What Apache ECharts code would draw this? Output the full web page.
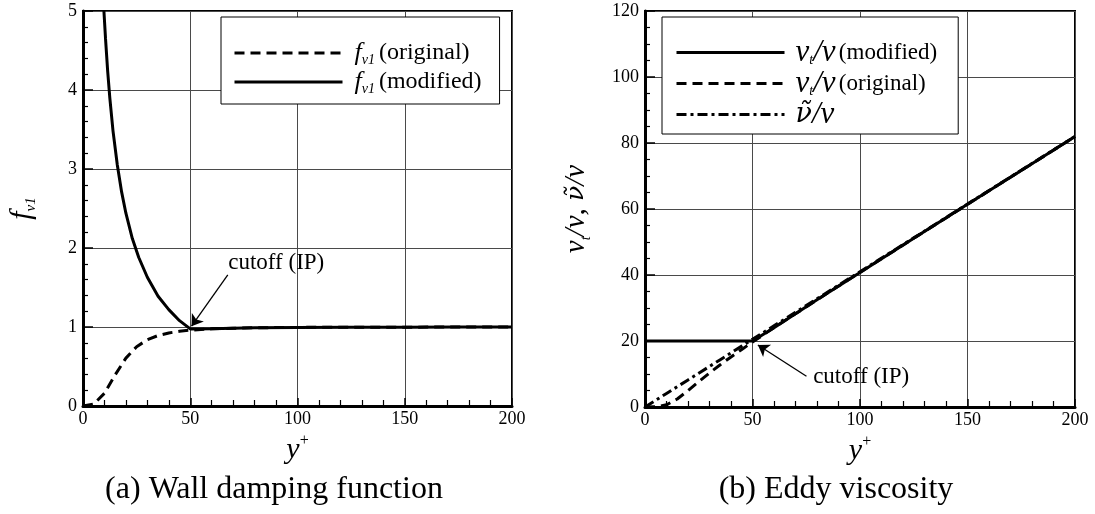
<!DOCTYPE html>
<html>
<head>
<meta charset="utf-8">
<script src="https://cdn.jsdelivr.net/npm/echarts@6/dist/echarts.min.js"></script>
<style>
  html, body { margin: 0; padding: 0; background: #fff; }
  #chart { width: 1095px; height: 514px; }
</style>
</head>
<body>
<div id="chart"></div>
<script>
// ---- data ----
// (a) wall damping function f_v1 against y+
const yPlus = [0, 5, 10, 15, 20, 25, 30, 35, 40, 45, 50, 60, 70, 80, 100, 125, 150, 175, 200];
const fv1Original = [0, 0.024, 0.161, 0.394, 0.606, 0.751, 0.839, 0.892, 0.925, 0.946, 0.960,
                     0.977, 0.985, 0.990, 0.995, 0.997, 0.998, 0.999, 0.999];
const yPlusNearWall = [9.75, 10.5, 11.5, 12.5, 14, 16, 18, 20, 23, 26, 30, 35, 40, 45, 50];
const fv1ModifiedNearWall = [5.0, 4.65, 4.24, 3.90, 3.48, 3.05, 2.71, 2.44, 2.12, 1.88, 1.63, 1.39, 1.22, 1.08, 0.976];
const yPlusOuter = [60, 70, 80, 100, 125, 150, 175, 200];
const fv1ModifiedOuter = [0.977, 0.985, 0.990, 0.995, 0.997, 0.998, 0.999, 0.999];

// (b) eddy viscosity ratios against y+
const nutOriginal = [0, 0.05, 0.66, 2.42, 4.97, 7.70, 10.32, 12.80, 15.17, 17.45, 19.68,
                     24.03, 28.26, 32.47, 40.79, 51.12, 61.41, 71.68, 81.95];
const nuTildeRatio = [0, 2.05, 4.1, 6.15, 8.2, 10.25, 12.3, 14.35, 16.4, 18.45, 20.5,
                      24.6, 28.7, 32.8, 41, 51.25, 61.5, 71.75, 82];
const yPlusCutoffBand = [0, 50];
const nutModifiedBand = [20, 20];
const nutModifiedOuter = [24.03, 28.26, 32.47, 40.79, 51.12, 61.41, 71.68, 81.95];

// axis ranges / ticks
const xTicks = { min: 0, max: 200, interval: 50 };
const yTicksA = { min: 0, max: 5, interval: 1 };
const yTicksB = { min: 0, max: 120, interval: 20 };

// interpolation point (cutoff) annotations
const cutoffA = { text: 'cutoff (IP)', at: [67.7, 1.81], from: [67.5, 1.66], to: [50.6, 1.01] };
const cutoffB = { text: 'cutoff (IP)', at: [78.2, 9.0], from: [75.1, 9.3], to: [52.5, 18.8] };

const captions = ['(a) Wall damping function', '(b) Eddy viscosity'];

const zip = (xs, ys) => xs.map((x, i) => [x, ys[i]]);

// ---- styling ----
const SERIF = 'Liberation Serif';
const INK = '#000';
const GRIDLINE = '#4a4a4a';
const dashed = [10, 6];
const dashDot = [10, 4, 3, 4];

const rich = {
  it: { fontFamily: SERIF, fontStyle: 'italic', fontSize: 26, color: INK, lineHeight: 28 },
  itsub: { fontFamily: SERIF, fontStyle: 'italic', fontSize: 14, color: INK, verticalAlign: 'bottom', lineHeight: 28, padding: [0, 4, 0, 0] },
  rm: { fontFamily: SERIF, fontSize: 24, color: INK, lineHeight: 28 },
  rm2: { fontFamily: SERIF, fontSize: 23, color: INK, lineHeight: 29 },
  gr: { fontFamily: SERIF, fontStyle: 'italic', fontSize: 31, color: INK, lineHeight: 29 },
  grt: { fontFamily: 'DejaVu Serif', fontStyle: 'italic', fontSize: 27, color: INK, lineHeight: 29 },
  grsub: { fontFamily: SERIF, fontStyle: 'italic', fontSize: 14, color: INK, verticalAlign: 'bottom', lineHeight: 29 },
  ax: { fontFamily: SERIF, fontStyle: 'italic', fontSize: 30, color: INK, lineHeight: 34 },
  axsub: { fontFamily: SERIF, fontStyle: 'italic', fontSize: 15, color: INK, verticalAlign: 'bottom', lineHeight: 34 },
  axsup: { fontFamily: SERIF, fontSize: 16, color: INK, verticalAlign: 'top', lineHeight: 34 },
  axgr: { fontFamily: SERIF, fontStyle: 'italic', fontSize: 29, color: INK, lineHeight: 34 },
  axgrt: { fontFamily: 'DejaVu Serif', fontStyle: 'italic', fontSize: 25, color: INK, lineHeight: 34 },
  axgrsub: { fontFamily: SERIF, fontStyle: 'italic', fontSize: 14, color: INK, verticalAlign: 'bottom', lineHeight: 34 }
};

const legendLabels = {
  fOrig: '{it|f}{itsub|v1}{rm|(original)}',
  fMod: '{it|f}{itsub|v1}{rm|(modified)}',
  nutMod: '{gr|ν}{grsub|t}{gr|/ν} {rm2|(modified)}',
  nutOrig: '{gr|ν}{grsub|t}{gr|/ν} {rm2|(original)}',
  nuTilde: '{grt|ν̃}{gr|/ν}'
};

function xAxisCfg(gridIndex) {
  return {
    type: 'value', gridIndex, min: xTicks.min, max: xTicks.max, interval: xTicks.interval,
    name: '{ax|y}{axsup|+}', nameLocation: 'middle', nameGap: 20,
    nameTextStyle: { rich },
    axisLine: { show: true, onZero: false, lineStyle: { color: INK, width: 3 } },
    axisTick: { show: true, inside: true, length: 8, lineStyle: { color: INK, width: 1.5 } },
    minorTick: { show: true, splitNumber: 5, length: 6, lineStyle: { color: INK, width: 1.2 } },
    splitLine: { show: true, lineStyle: { color: GRIDLINE, width: 1 } },
    axisLabel: { color: INK, fontFamily: SERIF, fontSize: 18, margin: 4 }
  };
}

function yAxisCfg(gridIndex, t, minorSplit, name, gap) {
  return {
    type: 'value', gridIndex, min: t.min, max: t.max, interval: t.interval,
    name, nameLocation: 'middle', nameGap: gap, nameRotate: 90,
    nameTextStyle: { rich },
    axisLine: { show: true, onZero: false, lineStyle: { color: INK, width: 3 } },
    axisTick: { show: true, inside: true, length: 10, lineStyle: { color: INK, width: 1.5 } },
    minorTick: { show: true, splitNumber: minorSplit, length: 5, lineStyle: { color: INK, width: 1.2 } },
    splitLine: { show: true, lineStyle: { color: GRIDLINE, width: 1 } },
    axisLabel: { color: INK, fontFamily: SERIF, fontSize: 18, margin: 6 }
  };
}

function lineSeries(name, xi, yi, data, dash, z) {
  return {
    name, type: 'line', xAxisIndex: xi, yAxisIndex: yi, data,
    showSymbol: false, symbol: 'none', smooth: false, z: z || 2,
    itemStyle: { color: INK },
    lineStyle: { color: INK, width: 3, type: dash || 'solid' },
    emphasis: { disabled: true }, silent: true, animation: false
  };
}

function annotation(a) {
  return {
    markPoint: {
      symbol: 'circle', symbolSize: 0, silent: true,
      data: [{ coord: a.at, label: { show: true, position: 'right', distance: 0, formatter: a.text,
        color: INK, fontFamily: SERIF, fontSize: 23 } }]
    },
    markLine: {
      silent: true, symbol: ['none', 'arrow'], symbolSize: 11, animation: false,
      lineStyle: { color: INK, width: 1.3, type: 'solid' },
      itemStyle: { color: INK },
      label: { show: false },
      emphasis: { disabled: true },
      data: [[{ coord: a.from }, { coord: a.to }]]
    }
  };
}

const legendBase = {
  orient: 'vertical', itemWidth: 108, itemHeight: 14,
  borderColor: INK, borderWidth: 1, backgroundColor: '#fff',
  selectedMode: false, inactiveColor: INK,
  itemStyle: { opacity: 0 },
  lineStyle: { width: 3, color: INK },
  formatter: n => legendLabels[n]
};

const fModSeries = lineSeries('fMod', 0, 0,
  zip(yPlusNearWall, fv1ModifiedNearWall).concat(zip(yPlusOuter, fv1ModifiedOuter)), 'solid', 3);
Object.assign(fModSeries, annotation(cutoffA));

const nutModSeries = lineSeries('nutMod', 1, 1,
  zip(yPlusCutoffBand, nutModifiedBand).concat(zip(yPlusOuter, nutModifiedOuter)), 'solid', 3);
Object.assign(nutModSeries, annotation(cutoffB));

const option = {
  animation: false,
  backgroundColor: '#fff',
  grid: [
    { left: 83, top: 11, width: 429, height: 395, show: true, borderColor: INK, borderWidth: 2, backgroundColor: 'transparent' },
    { left: 645, top: 11, width: 430, height: 396, show: true, borderColor: INK, borderWidth: 2, backgroundColor: 'transparent' }
  ],
  xAxis: [xAxisCfg(0), xAxisCfg(1)],
  yAxis: [
    yAxisCfg(0, yTicksA, 5, '{ax|f}{axsub|v1}', 44),
    yAxisCfg(1, yTicksB, 4, '{axgr|ν}{axgrsub|t}{axgr|/ν, }{axgrt|ν̃}{axgr|/ν}', 52)
  ],
  legend: [
    Object.assign({}, legendBase, { left: 221, top: 17, itemGap: 2, padding: [23, 18, 8, 12],
      textStyle: { rich, padding: [0, 0, 0, 7] }, data: ['fOrig', 'fMod'] }),
    Object.assign({}, legendBase, { left: 662, top: 17, itemGap: 0, padding: [20, 21, 4, 13],
      textStyle: { rich, padding: [0, 0, 0, 6] }, data: ['nutMod', 'nutOrig', 'nuTilde'] })
  ],
  series: [
    lineSeries('fOrig', 0, 0, zip(yPlus, fv1Original), dashed, 2),
    fModSeries,
    lineSeries('nutOrig', 1, 1, zip(yPlus, nutOriginal), dashed, 2),
    lineSeries('nuTilde', 1, 1, zip(yPlus, nuTildeRatio), dashDot, 2),
    nutModSeries
  ],
  graphic: [
    { type: 'text', x: 274, y: 490, style: { text: captions[0], font: '32px "Liberation Serif"', fill: INK, align: 'center', verticalAlign: 'middle' } },
    { type: 'text', x: 836, y: 490, style: { text: captions[1], font: '32px "Liberation Serif"', fill: INK, align: 'center', verticalAlign: 'middle' } }
  ]
};

const chart = echarts.init(document.getElementById('chart'), null, { renderer: 'canvas' });
chart.setOption(option);
</script>
</body>
</html>
